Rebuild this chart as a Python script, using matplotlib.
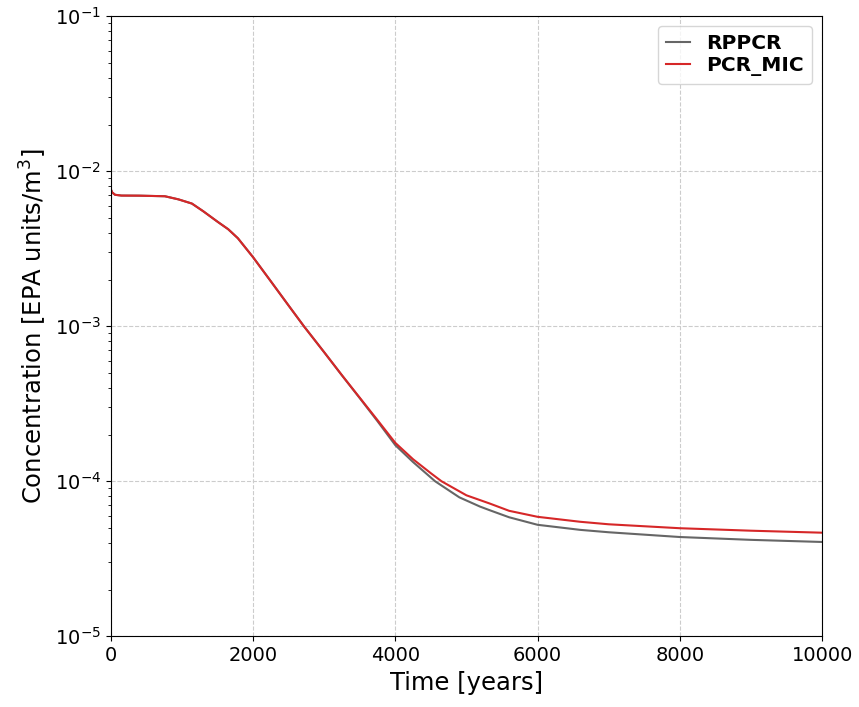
import matplotlib
matplotlib.use("Agg")
import matplotlib.pyplot as plt

# time in years, concentration in EPA units/m^3
t_red = [0, 20, 60, 150, 400, 760, 950, 1140, 1300, 1505, 1650, 1786, 2000, 2250, 2500, 2715,
         3000, 3250, 3500, 3750, 4000, 4250, 4500, 4650, 5000, 5330, 5600, 6000, 6600, 7000,
         8000, 9000, 10000]
c_red = [7.65e-3, 7.3e-3, 7.05e-3, 6.97e-3, 6.96e-3, 6.9e-3, 6.59e-3, 6.19e-3, 5.52e-3, 4.71e-3,
         4.23e-3, 3.7e-3, 2.79e-3, 1.95e-3, 1.36e-3, 1.0e-3, 6.8e-4, 4.83e-4, 3.46e-4, 2.48e-4,
         1.77e-4, 1.387e-4, 1.127e-4, 1.0e-4, 8.12e-5, 7.18e-5, 6.45e-5, 5.9e-5, 5.48e-5, 5.28e-5,
         4.98e-5, 4.8e-5, 4.66e-5]

t_gray = [0, 20, 60, 150, 400, 760, 950, 1140, 1300, 1505, 1650, 1786, 2000, 2250, 2500, 2715,
          3000, 3250, 3500, 3750, 4000, 4250, 4560, 4900, 5190, 5330, 5600, 6000, 6600, 7000,
          8000, 9000, 10000]
c_gray = [7.65e-3, 7.3e-3, 7.05e-3, 6.97e-3, 6.96e-3, 6.9e-3, 6.59e-3, 6.19e-3, 5.52e-3, 4.71e-3,
          4.23e-3, 3.7e-3, 2.79e-3, 1.95e-3, 1.36e-3, 1.0e-3, 6.8e-4, 4.82e-4, 3.44e-4, 2.44e-4,
          1.71e-4, 1.33e-4, 1.0e-4, 7.88e-5, 6.87e-5, 6.5e-5, 5.86e-5, 5.24e-5, 4.86e-5, 4.69e-5,
          4.37e-5, 4.19e-5, 4.06e-5]

fig, ax = plt.subplots(figsize=(8.59, 7.07), dpi=100)
fig.subplots_adjust(left=0.129, right=0.957, top=0.977, bottom=0.1)

ax.plot(t_gray, c_gray, color="#666666", lw=1.5, label="RPPCR")
ax.plot(t_red, c_red, color="#d62728", lw=1.5, label="PCR_MIC")

ax.set_yscale("log")
ax.set_xlim(0, 10000)
ax.set_ylim(1e-5, 1e-1)
ax.grid(True, which="major", ls="--", color="#cccccc", lw=0.8)
ax.tick_params(labelsize=14)
ax.set_xlabel("Time [years]", fontsize=17.5)
ax.set_ylabel("Concentration [EPA units/m$^3$]", fontsize=17.5)
ax.legend(loc="upper right", prop={"weight": "bold", "size": 14.5}, handlelength=1.2,
          handletextpad=0.8, labelspacing=0.15)

fig.savefig("out.png", dpi=100)
